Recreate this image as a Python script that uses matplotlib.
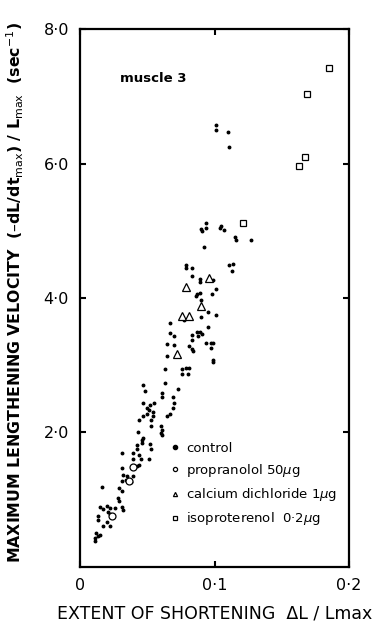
import matplotlib
matplotlib.use('Agg')
import matplotlib.pyplot as plt

# control (filled dots)
ctrl_x = [0.101, 0.101, 0.110, 0.111, 0.094, 0.090, 0.091, 0.094, 0.104, 0.105,
          0.107, 0.115, 0.116, 0.127, 0.092, 0.079, 0.079, 0.083, 0.111, 0.114,
          0.113, 0.083, 0.089, 0.089, 0.099, 0.101, 0.087, 0.089, 0.086, 0.090,
          0.098, 0.101, 0.095, 0.090, 0.077, 0.067, 0.095, 0.067, 0.070, 0.083,
          0.087, 0.089, 0.091, 0.088, 0.083, 0.065, 0.070, 0.081, 0.083, 0.084,
          0.094, 0.097, 0.099, 0.097, 0.099, 0.099, 0.065, 0.063, 0.076, 0.079,
          0.081, 0.076, 0.080, 0.063, 0.047, 0.048, 0.061, 0.061, 0.073, 0.069,
          0.070, 0.069, 0.067, 0.065, 0.047, 0.052, 0.055, 0.050, 0.051, 0.050,
          0.054, 0.047, 0.044, 0.054, 0.053, 0.053, 0.060, 0.061, 0.060, 0.061,
          0.043, 0.047, 0.046, 0.046, 0.042, 0.042, 0.052, 0.053, 0.031, 0.039,
          0.039, 0.044, 0.045, 0.051, 0.042, 0.044, 0.031, 0.032, 0.035, 0.039,
          0.034, 0.031, 0.038, 0.016, 0.029, 0.031, 0.028, 0.029, 0.015, 0.017,
          0.020, 0.022, 0.026, 0.031, 0.032, 0.021, 0.022, 0.013, 0.013, 0.020,
          0.022, 0.017, 0.012, 0.013, 0.011, 0.015, 0.011]
ctrl_y = [6.58, 6.50, 6.47, 6.25, 5.11, 5.02, 4.99, 5.04, 5.04, 5.07,
          5.01, 4.90, 4.86, 4.87, 4.76, 4.49, 4.44, 4.44, 4.49, 4.50,
          4.40, 4.33, 4.28, 4.24, 4.27, 4.13, 4.06, 4.07, 4.03, 3.97,
          4.06, 3.75, 3.79, 3.72, 3.67, 3.63, 3.57, 3.48, 3.44, 3.45,
          3.50, 3.50, 3.47, 3.44, 3.38, 3.32, 3.30, 3.29, 3.24, 3.21,
          3.33, 3.33, 3.33, 3.26, 3.08, 3.05, 3.13, 2.95, 2.95, 2.96,
          2.96, 2.87, 2.87, 2.74, 2.70, 2.62, 2.59, 2.53, 2.64, 2.53,
          2.43, 2.36, 2.27, 2.24, 2.44, 2.41, 2.44, 2.37, 2.33, 2.28,
          2.31, 2.24, 2.18, 2.24, 2.19, 2.10, 2.09, 2.03, 1.99, 1.96,
          2.01, 1.91, 1.88, 1.84, 1.81, 1.76, 1.82, 1.75, 1.69, 1.69,
          1.61, 1.67, 1.61, 1.61, 1.50, 1.51, 1.47, 1.36, 1.35, 1.35,
          1.29, 1.27, 1.26, 1.19, 1.17, 1.13, 1.02, 0.98, 0.89, 0.86,
          0.90, 0.87, 0.87, 0.89, 0.84, 0.81, 0.79, 0.76, 0.70, 0.67,
          0.61, 0.61, 0.50, 0.46, 0.43, 0.47, 0.39]

# propranolol 50 ug (open circles)
prop_x = [0.024, 0.039, 0.036]
prop_y = [0.76, 1.48, 1.27]

# calcium dichloride 1 ug (open triangles)
cacl_x = [0.079, 0.096, 0.090, 0.076, 0.081, 0.072]
cacl_y = [4.16, 4.30, 3.88, 3.73, 3.73, 3.16]

# isoproterenol 0.2 ug (open squares)
iso_x = [0.185, 0.169, 0.167, 0.163, 0.121]
iso_y = [7.42, 7.04, 6.10, 5.96, 5.11]

xticks = [0, 0.1, 0.2]
xticklabels = ['0', '0·1', '0·2']
yticks = [2, 4, 6, 8]
yticklabels = ['2·0', '4·0', '6·0', '8·0']

plt.rcParams['font.family'] = ['DejaVu Sans']

fig = plt.figure(figsize=(3.89, 6.34), dpi=100)
ax = fig.add_axes([0.206, 0.106, 0.691, 0.848])

ax.plot(ctrl_x, ctrl_y, 'o', color='black', markersize=1.8, label='control')
ax.plot(prop_x, prop_y, 'o', mfc='white', mec='black', mew=0.9, markersize=5,
        label='propranolol 50$\\mu$g')
ax.plot(cacl_x, cacl_y, '^', mfc='white', mec='black', mew=0.9, markersize=5.5,
        label='calcium dichloride 1$\\mu$g')
ax.plot(iso_x, iso_y, 's', mfc='white', mec='black', mew=0.9, markersize=4.5,
        label='isoproterenol  0·2$\\mu$g')

ax.set_xlim(0, 0.2)
ax.set_ylim(0, 8)
ax.set_xticks(xticks)
ax.set_xticklabels(xticklabels, fontsize=11.5)
ax.set_yticks(yticks)
ax.set_yticklabels(yticklabels, fontsize=11.5)
ax.tick_params(direction='in', length=4, width=1.5, top=True, right=True, pad=8)
for s in ax.spines.values():
    s.set_linewidth(1.6)

ax.text(0.149, 0.909, 'muscle 3', transform=ax.transAxes, fontsize=9.5,
        fontweight='bold', va='center', ha='left')

leg = ax.legend(loc='upper left', bbox_to_anchor=(0.31, 0.245), frameon=False,
                fontsize=9.5, handlelength=0.8, handletextpad=0.4,
                labelspacing=0.55, borderpad=0)
# small legend markers like the original
for h in leg.legend_handles:
    h.set_markersize(3)

ax.set_xlabel('EXTENT OF SHORTENING  ΔL / Lmax', fontsize=12.5, labelpad=8)
ax.set_ylabel('MAXIMUM LENGTHENING VELOCITY  (–dL/dt$_{\\rm max}$) / L$_{\\rm max}$  (sec$^{-1}$)',
              fontsize=11.3, fontweight='bold')
ax.yaxis.set_label_coords(-0.2, 0.51)

fig.savefig('out.png', dpi=100)
